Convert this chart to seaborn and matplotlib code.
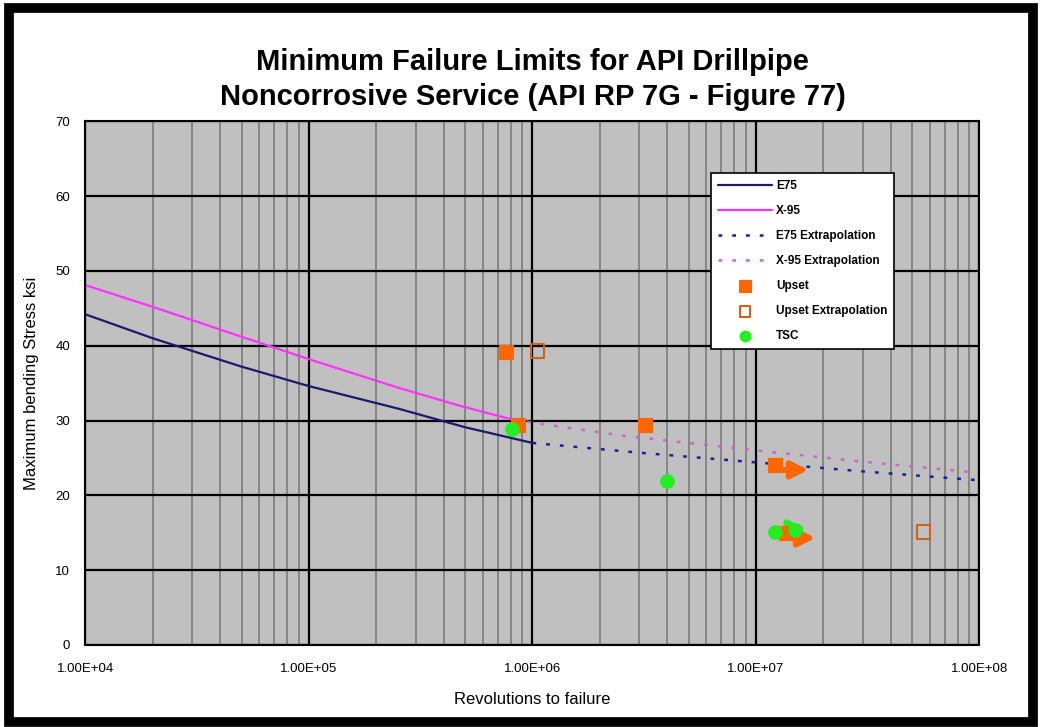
import numpy as np
import pandas as pd
import matplotlib
matplotlib.use("Agg")
import matplotlib.pyplot as plt
from matplotlib.patches import Rectangle
from matplotlib.ticker import FuncFormatter, LogLocator, MultipleLocator
import seaborn as sns

# Fatigue curves
e75_n = [1e4, 2e4, 5e4, 1e5, 2.5e5, 5e5, 1e6]
e75_s = [44.2, 41.0, 37.2, 34.6, 31.6, 29.1, 27.0]
x95_n = [1e4, 2e4, 5e4, 1e5, 2.5e5, 4.7e5, 8.2e5]
x95_s = [48.1, 45.2, 41.2, 38.2, 34.4, 32.0, 30.1]

# Extrapolations
e75_ext_n = [1e6, 3e6, 1e7, 3e7, 1e8]
e75_ext_s = [27.0, 25.7, 24.4, 23.2, 22.0]
x95_ext_n = [8.2e5, 2.5e6, 1e7, 3e7, 1e8]
x95_ext_s = [30.1, 28.0, 26.0, 24.5, 23.0]

# Test points
upset_n = [7.6e5, 8.6e5, 3.2e6, 1.22e7, 1.36e7]
upset_s = [39.2, 29.4, 29.4, 24.0, 15.0]
upset_ext_n = [1.05e6, 5.6e7]
upset_ext_s = [39.3, 15.1]
tsc_n = [8.1e5, 4.0e6, 1.22e7, 1.5e7]
tsc_s = [28.8, 21.9, 15.05, 15.4]

# run-out arrows: (start N, end N, stress)
upset_arrows = [(1.3e7, 1.72e7, 23.4), (1.42e7, 1.85e7, 14.3)]
tsc_arrows = [(1.3e7, 1.68e7, 15.5)]

sns.set_style("white")
plt.rcParams['font.family'] = ['Liberation Sans', 'DejaVu Sans']
plt.rcParams['text.color'] = 'black'
plt.rcParams['axes.labelcolor'] = 'black'
plt.rcParams['xtick.color'] = 'black'
plt.rcParams['ytick.color'] = 'black'

fig = plt.figure(figsize=(10.42, 7.27), dpi=100)
ax = fig.add_axes([0.082, 0.113, 0.858, 0.720])
ax.set_facecolor('#c0c0c0')

sns.lineplot(x=e75_n, y=e75_s, ax=ax, color='#1a1a6e', lw=1.6, label='E75')
sns.lineplot(x=x95_n, y=x95_s, ax=ax, color='#ff33ff', lw=1.6, label='X-95')
sns.lineplot(x=e75_ext_n, y=e75_ext_s, ax=ax, color='#1c1c9c', lw=1.8,
             linestyle=(0, (1.5, 4)), label='E75 Extrapolation')
sns.lineplot(x=x95_ext_n, y=x95_ext_s, ax=ax, color='#cc66cc', lw=1.8,
             linestyle=(0, (1.5, 4)), label='X-95 Extrapolation')

for n0, n1, s in upset_arrows:
    ax.annotate('', xy=(n1, s), xytext=(n0, s), zorder=4,
                arrowprops=dict(arrowstyle='-|>,head_width=0.5,head_length=1.0',
                                color='#ff6600', lw=4, shrinkA=0, shrinkB=0))
for n0, n1, s in tsc_arrows:
    ax.annotate('', xy=(n1, s), xytext=(n0, s), zorder=4,
                arrowprops=dict(arrowstyle='-|>,head_width=0.5,head_length=1.0',
                                color='#22ee22', lw=4, shrinkA=0, shrinkB=0))

sns.scatterplot(x=upset_n, y=upset_s, ax=ax, marker='s', s=110, color='#ff6600',
                edgecolor='#ff6600', zorder=5, label='Upset')
sns.scatterplot(x=upset_ext_n, y=upset_ext_s, ax=ax, marker='s', s=90,
                facecolor='none', edgecolor='#c8641e', linewidth=1.5, zorder=5,
                label='Upset Extrapolation')
sns.scatterplot(x=tsc_n, y=tsc_s, ax=ax, marker='o', s=95, color='#22ee22',
                edgecolor='#22ee22', zorder=6, label='TSC')

ax.set_xscale('log')
ax.set_xlim(1e4, 1e8)
ax.set_ylim(0, 70)
ax.yaxis.set_major_locator(MultipleLocator(10))
ax.xaxis.set_major_locator(LogLocator(base=10, numticks=10))
ax.xaxis.set_minor_locator(LogLocator(base=10, subs=np.arange(2, 10), numticks=50))
ax.xaxis.set_major_formatter(FuncFormatter(lambda v, p: f"{v:.2E}"))

ax.set_axisbelow(True)
ax.grid(which='major', axis='both', color='black', lw=1.6)
ax.grid(which='minor', axis='x', color='#808080', lw=1.3)
for sp in ax.spines.values():
    sp.set_color('black')
    sp.set_linewidth(1.5)

ax.tick_params(axis='both', which='major', direction='out', length=5, width=1.2,
               color='black', labelsize=9.5, pad=6)
ax.tick_params(axis='x', which='minor', length=0)
ax.tick_params(axis='x', which='major', pad=8)

ax.set_xlabel('Revolutions to failure', fontsize=12, labelpad=12)
ax.set_ylabel('Maximum bending Stress ksi', fontsize=12, labelpad=12)
ax.set_title('Minimum Failure Limits for API Drillpipe\nNoncorrosive Service (API RP 7G - Figure 77)',
             fontsize=21, fontweight='bold', pad=12, linespacing=1.3)

leg = ax.legend(loc='upper left', bbox_to_anchor=(0.693, 0.912),
                prop={'size': 8.5, 'weight': 'bold'},
                frameon=True, fancybox=False, edgecolor='black', facecolor='white',
                framealpha=1, handlelength=4.6, labelspacing=1.1, borderpad=0.6,
                handletextpad=0.3, markerscale=0.8)
leg.get_frame().set_linewidth(1.2)

# thick black frame around the whole chart
fig.patches.append(Rectangle((0.009, 0.007), 0.982, 0.982, transform=fig.transFigure,
                             fill=False, edgecolor='black', lw=7))

fig.savefig('out.png', dpi=100)
